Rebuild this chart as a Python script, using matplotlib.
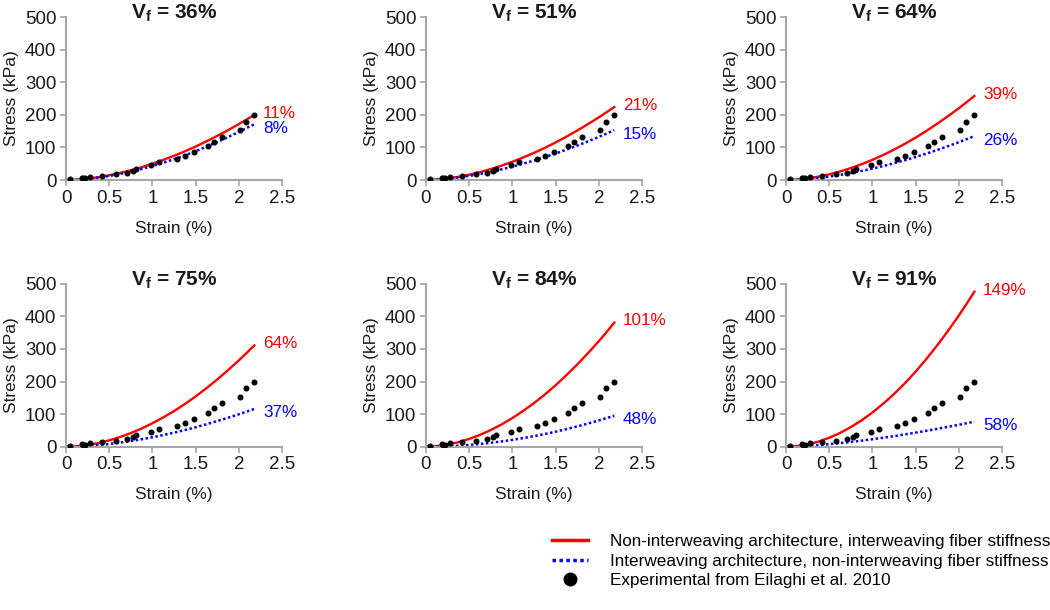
import matplotlib
matplotlib.use("Agg")
import matplotlib.pyplot as plt
from matplotlib.lines import Line2D

plt.rcParams['font.family'] = ['Liberation Sans', 'DejaVu Sans']
plt.rcParams['mathtext.fontset'] = 'custom'
plt.rcParams['mathtext.rm'] = 'Liberation Sans'
plt.rcParams['mathtext.bf'] = 'Liberation Sans:bold'

# fibre volume fractions of the six panels
vf_labels = ["36%", "51%", "64%", "75%", "84%", "91%"]

strain_model = [0, 0.125, 0.25, 0.375, 0.5, 0.625, 0.75, 0.875, 1.0, 1.125,
                1.25, 1.375, 1.5, 1.625, 1.75, 1.875, 2.0, 2.09, 2.18]

# non-interweaving architecture, interweaving fiber stiffness (kPa)
red_curves = [
    [0, 1.2, 4.2, 8.7, 14.6, 21.6, 29.9, 39.4, 50, 61.7,
     74.4, 88, 102.8, 118.7, 135.5, 153, 171.7, 185.7, 200],
    [0, 1.4, 4.7, 9.7, 16.3, 24.2, 33.5, 44.1, 56, 69.1,
     83.3, 98.6, 115.1, 133, 151.8, 171.6, 192.3, 207.9, 224],
    [0, 1.4, 4.9, 10.3, 17.4, 26.2, 36.6, 48.5, 62, 76.9,
     93.2, 111, 130, 150.8, 172.8, 196, 220.3, 238.9, 258],
    [0, 1.4, 5.3, 11.4, 19.6, 29.7, 41.9, 55.9, 72, 89.9,
     109.5, 130.9, 154.2, 179.6, 206.4, 235, 265, 287.9, 311],
    [0, 1.8, 6.5, 13.9, 23.9, 36.3, 51.2, 68.4, 88, 109.9,
     133.8, 160, 188.4, 219.5, 252.2, 287.2, 323.8, 351.9, 381],
    [0, 1.9, 7.1, 15.6, 27.4, 42.2, 60.1, 81, 105, 132,
     161.8, 194.6, 230.4, 269.5, 311.1, 355.7, 402.7, 438.7, 475.7],
]
# interweaving architecture, non-interweaving fiber stiffness (kPa)
blue_curves = [
    [0, 1.1, 3.6, 7.5, 12.5, 18.6, 25.8, 33.9, 43, 53.1,
     63.9, 75.7, 88.4, 102.1, 116.5, 131.8, 147.7, 159.7, 171],
    [0, 1.2, 3.9, 7.8, 12.7, 18.5, 25.2, 32.7, 41, 50.1,
     59.8, 70.2, 81.3, 93.2, 105.6, 118.7, 132.3, 142.5, 153],
    [0, 1.0, 3.2, 6.4, 10.6, 15.5, 21.3, 27.8, 35, 42.9,
     51.5, 60.7, 70.6, 81.2, 92.2, 103.9, 116.1, 125.3, 134.8],
    [0, 0.7, 2.5, 5.0, 8.4, 12.6, 17.4, 22.9, 29, 35.8,
     43.1, 51.1, 59.6, 68.9, 78.6, 88.9, 99.6, 107.7, 116],
    [0, 0.4, 1.4, 3.1, 5.5, 8.4, 12.0, 16.2, 21, 26.4,
     32.4, 38.9, 46.1, 53.9, 62.2, 71.1, 80.5, 87.7, 95.1],
    [0, 0.9, 2.7, 5.0, 7.9, 11.1, 14.7, 18.7, 23, 27.6,
     32.5, 37.7, 43.1, 48.9, 54.8, 61, 67.3, 72.1, 76.9],
]
red_pct = ["11%", "21%", "39%", "64%", "101%", "149%"]
blue_pct = ["8%", "15%", "26%", "37%", "48%", "58%"]

# experimental data, Eilaghi et al. 2010
exp_strain = [0.05, 0.18, 0.2, 0.22, 0.28, 0.42, 0.58, 0.71, 0.78, 0.81, 0.98,
              1.08, 1.28, 1.38, 1.48, 1.64, 1.71, 1.81, 2.01, 2.08, 2.18]
exp_stress = [3, 7, 5, 6, 10, 13, 19, 23, 29, 35, 45,
              54, 63, 73, 85, 105, 118, 133, 152, 179, 200]

RED = '#ff0000'
BLUE = '#0000ff'
GRAY = '#a6a6a6'
TXT = '#1a1a1a'

fig = plt.figure(figsize=(10.5, 6.1), dpi=100)

lefts = [0.0629, 0.4057, 0.7486]
bottoms = [0.7049, 0.2677]
w, h = 0.2057, 0.267

for i in range(6):
    ax = fig.add_axes([lefts[i % 3], bottoms[i // 3], w, h])
    ax.plot(strain_model, red_curves[i], color=RED, lw=1.7, zorder=2)
    ax.plot(strain_model, blue_curves[i], color=BLUE, lw=1.8, ls=(0, (1, 1)), zorder=2)
    ax.plot(exp_strain, exp_stress, 'o', color='black', ms=3.3, zorder=3)

    ax.text(2.28, red_curves[i][-1] + 5, red_pct[i], color=RED, fontsize=12.3,
            va='center', ha='left', clip_on=False)
    ax.text(2.28, blue_curves[i][-1] - 12, blue_pct[i], color=BLUE, fontsize=12.3,
            va='center', ha='left', clip_on=False)

    ax.set_xlim(0, 2.5)
    ax.set_ylim(0, 500)
    ax.set_xticks([0, 0.5, 1, 1.5, 2, 2.5])
    ax.set_xticklabels(["0", "0.5", "1", "1.5", "2", "2.5"])
    ax.set_yticks([0, 100, 200, 300, 400, 500])

    for s in ['top', 'right']:
        ax.spines[s].set_visible(False)
    for s in ['left', 'bottom']:
        ax.spines[s].set_color(GRAY)
        ax.spines[s].set_linewidth(1.5)
    ax.tick_params(direction='out', length=4.5, width=1.2, color=GRAY,
                   labelsize=13.5, labelcolor=TXT, pad=2.5)

    ax.set_xlabel("Strain (%)", fontsize=12.5, color=TXT, labelpad=10)
    ax.set_ylabel("Stress (kPa)", fontsize=12.5, color=TXT, labelpad=4)

    ax.text(0.5, 0.99, r"$\mathbf{V_f}$ = " + vf_labels[i], transform=ax.transAxes,
            ha='center', va='baseline', fontsize=15, fontweight='bold', color=TXT)

handles = [
    Line2D([], [], color=RED, lw=2.5),
    Line2D([], [], color=BLUE, lw=2.5, ls=(0, (1, 1))),
    Line2D([], [], color='black', marker='o', ls='none', ms=9),
]
labels = [
    "Non-interweaving architecture, interweaving fiber stiffness",
    "Interweaving architecture, non-interweaving fiber stiffness",
    "Experimental from Eilaghi et al. 2010",
]
fig.legend(handles, labels, loc='upper left', bbox_to_anchor=(0.526, 0.124),
           frameon=False, fontsize=12.3, handlelength=2.1, handletextpad=1.3,
           labelspacing=0.25, borderpad=0, borderaxespad=0)

fig.savefig("out.png", dpi=100)
